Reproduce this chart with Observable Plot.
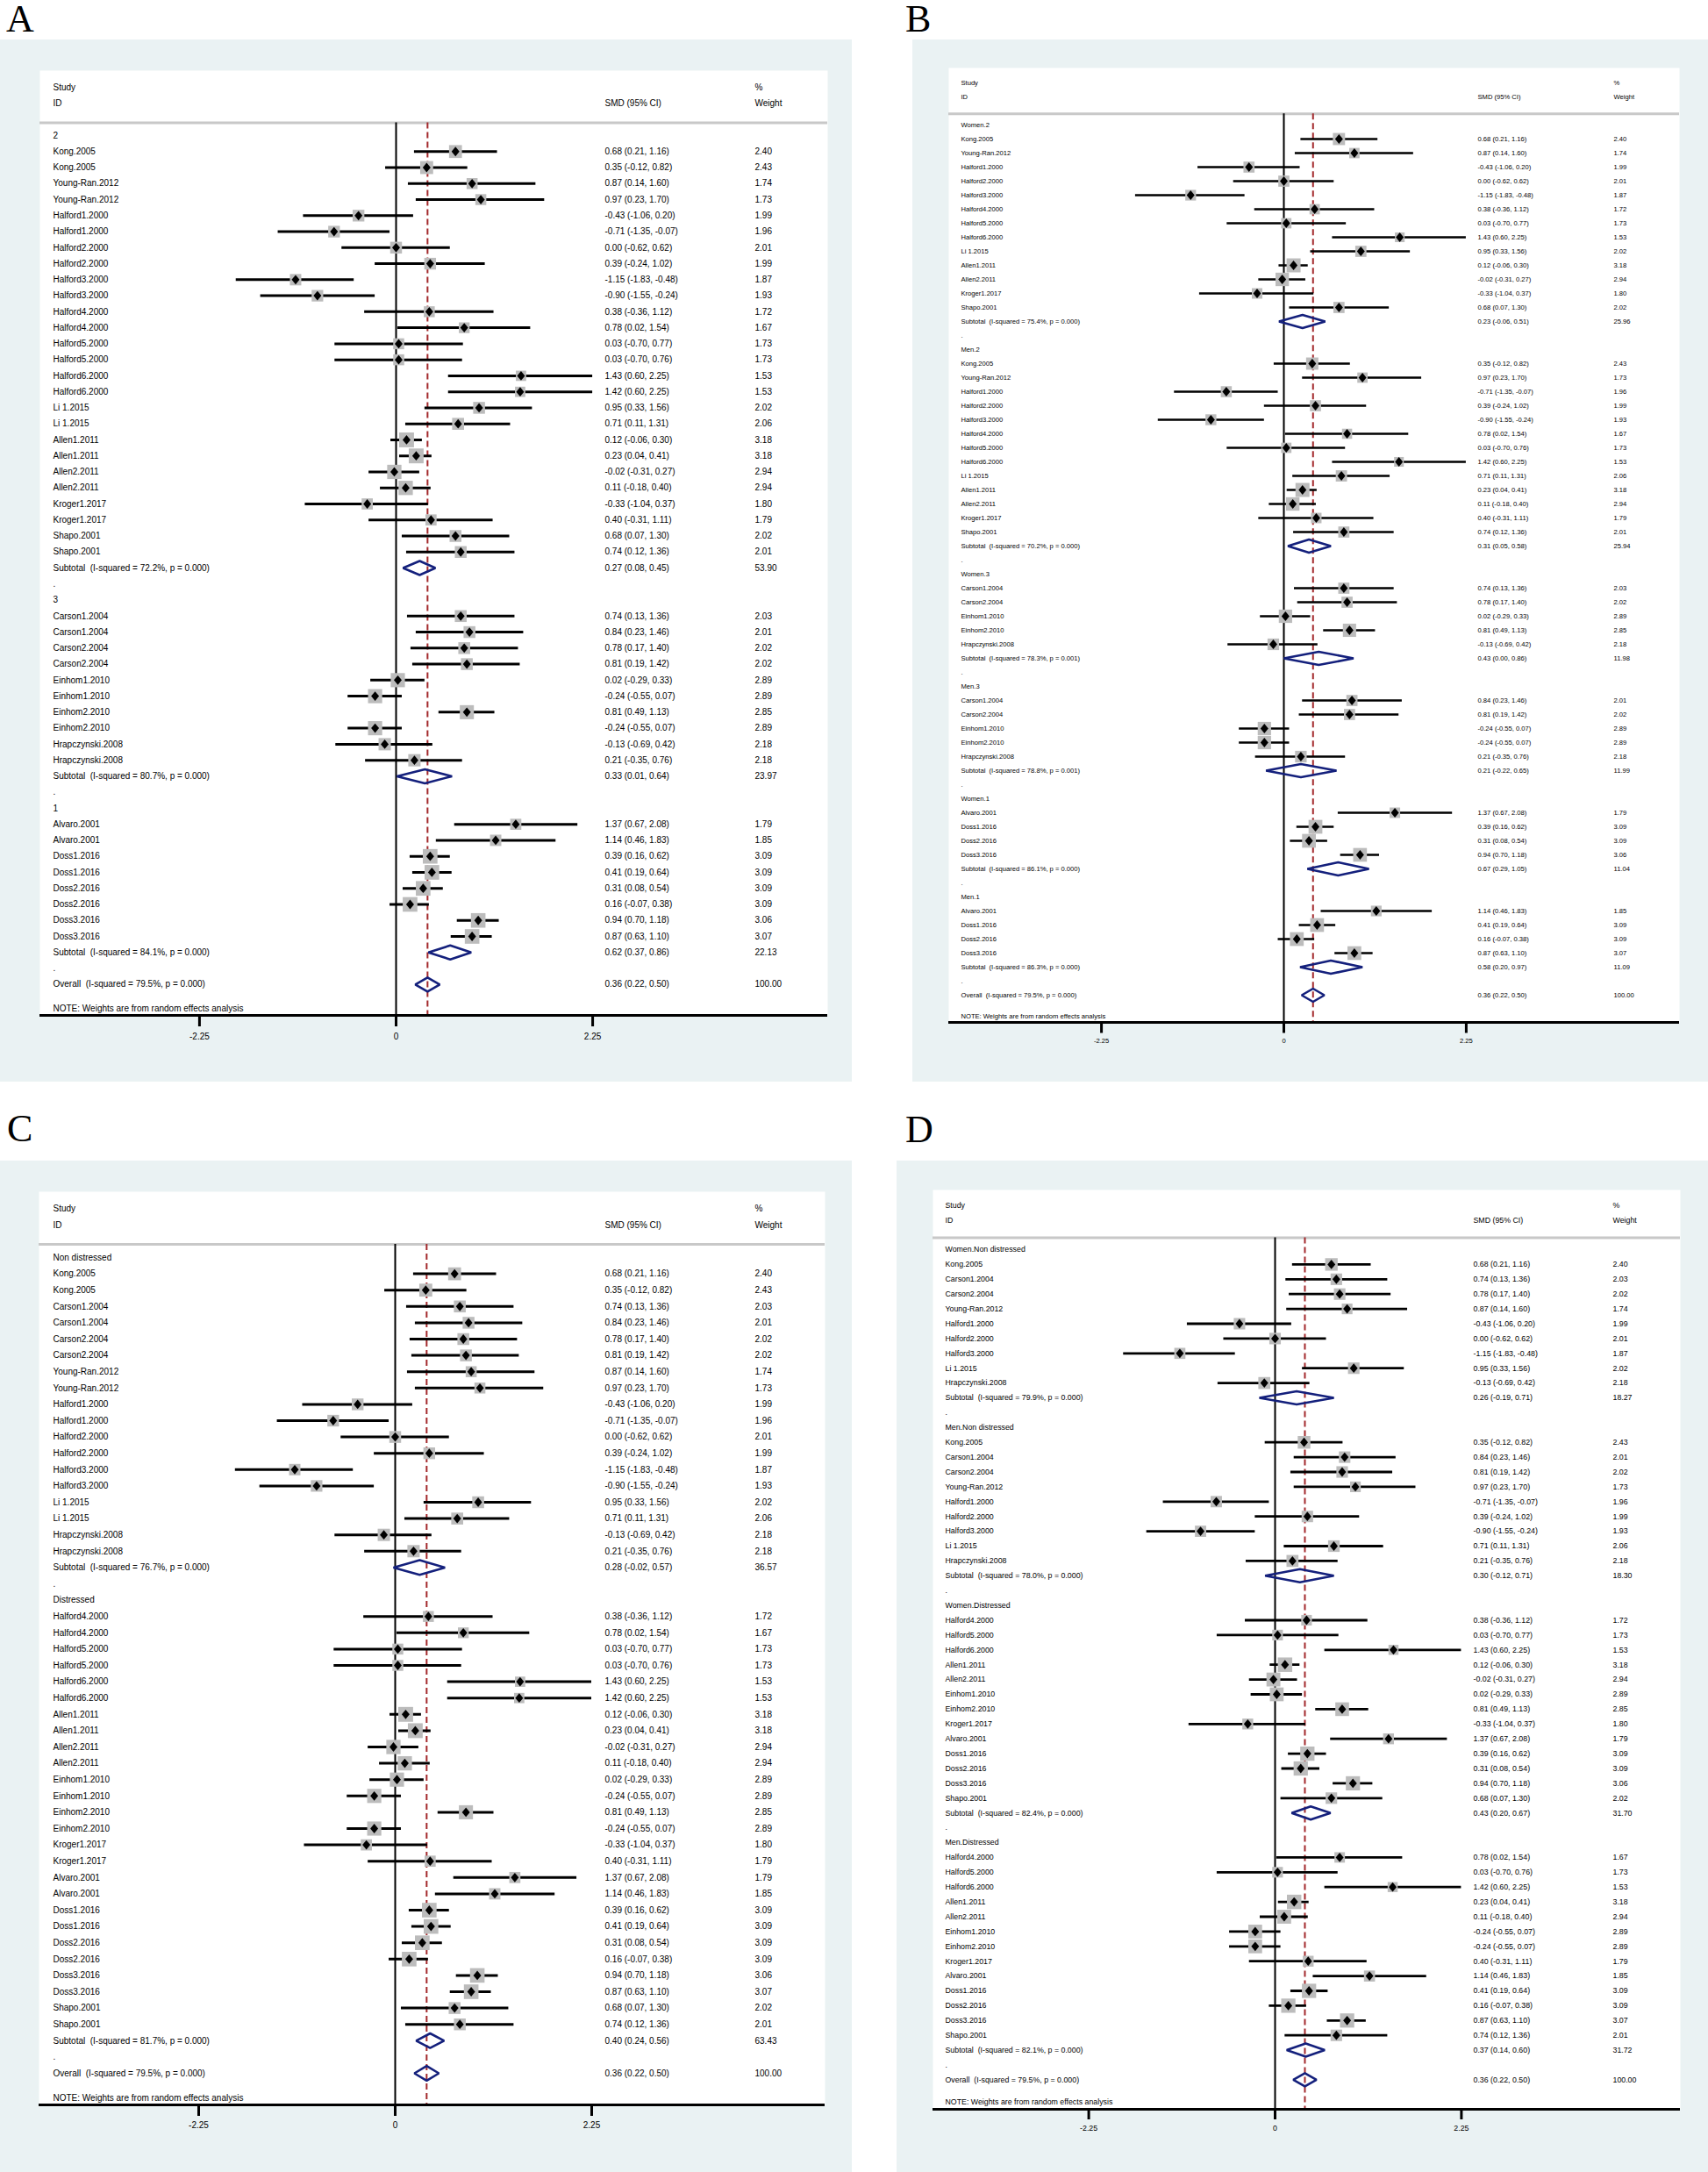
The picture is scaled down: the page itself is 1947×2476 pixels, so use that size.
<!DOCTYPE html>
<html><head><meta charset="utf-8">
<script src="https://cdn.jsdelivr.net/npm/d3@7"></script>
<script src="https://cdn.jsdelivr.net/npm/@observablehq/plot@0.6"></script>
<style>
html,body{margin:0;padding:0;background:#fff;}
body{width:1947px;height:2476px;position:relative;overflow:hidden;font-family:"Liberation Sans",Arial,sans-serif;}
.letter{position:absolute;font-family:"Liberation Serif","Times New Roman",serif;font-size:44px;line-height:44px;color:#000;}
.panel{position:absolute;}
.panel svg{display:block;}
</style></head><body>
<script>
// ---------------- shared values ----------------
const X_TICKS = [-2.25, 0, 2.25];
const HEAD_LEFT = ["Study", "ID"];
const HEAD_MID = ["", "SMD (95% CI)"];
const HEAD_RIGHT = ["%", "Weight"];
const NOTE_TEXT = "NOTE: Weights are from random effects analysis";
const OV_I2 = "79.5%", OV_P = "0.000", OV_SMD = 0.36, OV_LO = 0.22, OV_HI = 0.50, OV_WT = 100.00;

// ---------------- Panel A ----------------
const A_groups = ["2", "3", "1"];
const A_size = [26, 10, 8];
const A_study = ["Kong.2005","Kong.2005","Young-Ran.2012","Young-Ran.2012","Halford1.2000","Halford1.2000","Halford2.2000","Halford2.2000","Halford3.2000","Halford3.2000","Halford4.2000","Halford4.2000","Halford5.2000","Halford5.2000","Halford6.2000","Halford6.2000","Li 1.2015","Li 1.2015","Allen1.2011","Allen1.2011","Allen2.2011","Allen2.2011","Kroger1.2017","Kroger1.2017","Shapo.2001","Shapo.2001",
 "Carson1.2004","Carson1.2004","Carson2.2004","Carson2.2004","Einhom1.2010","Einhom1.2010","Einhom2.2010","Einhom2.2010","Hrapczynski.2008","Hrapczynski.2008",
 "Alvaro.2001","Alvaro.2001","Doss1.2016","Doss1.2016","Doss2.2016","Doss2.2016","Doss3.2016","Doss3.2016"];
const A_smd = [0.68,0.35,0.87,0.97,-0.43,-0.71,0.00,0.39,-1.15,-0.90,0.38,0.78,0.03,0.03,1.43,1.42,0.95,0.71,0.12,0.23,-0.02,0.11,-0.33,0.40,0.68,0.74,
 0.74,0.84,0.78,0.81,0.02,-0.24,0.81,-0.24,-0.13,0.21,
 1.37,1.14,0.39,0.41,0.31,0.16,0.94,0.87];
const A_lo = [0.21,-0.12,0.14,0.23,-1.06,-1.35,-0.62,-0.24,-1.83,-1.55,-0.36,0.02,-0.70,-0.70,0.60,0.60,0.33,0.11,-0.06,0.04,-0.31,-0.18,-1.04,-0.31,0.07,0.12,
 0.13,0.23,0.17,0.19,-0.29,-0.55,0.49,-0.55,-0.69,-0.35,
 0.67,0.46,0.16,0.19,0.08,-0.07,0.70,0.63];
const A_hi = [1.16,0.82,1.60,1.70,0.20,-0.07,0.62,1.02,-0.48,-0.24,1.12,1.54,0.77,0.76,2.25,2.25,1.56,1.31,0.30,0.41,0.27,0.40,0.37,1.11,1.30,1.36,
 1.36,1.46,1.40,1.42,0.33,0.07,1.13,0.07,0.42,0.76,
 2.08,1.83,0.62,0.64,0.54,0.38,1.18,1.10];
const A_wt = [2.40,2.43,1.74,1.73,1.99,1.96,2.01,1.99,1.87,1.93,1.72,1.67,1.73,1.73,1.53,1.53,2.02,2.06,3.18,3.18,2.94,2.94,1.80,1.79,2.02,2.01,
 2.03,2.01,2.02,2.02,2.89,2.89,2.85,2.89,2.18,2.18,
 1.79,1.85,3.09,3.09,3.09,3.09,3.06,3.07];
const A_subI2 = ["72.2%","80.7%","84.1%"];
const A_subP = ["0.000","0.000","0.000"];
const A_subSmd = [0.27,0.33,0.62];
const A_subLo = [0.08,0.01,0.37];
const A_subHi = [0.45,0.64,0.86];
const A_subWt = [53.90,23.97,22.13];

// ---------------- Panel B ----------------
const B_groups = ["Women.2","Men.2","Women.3","Men.3","Women.1","Men.1"];
const B_size = [13,13,5,5,4,4];
const B_study = ["Kong.2005","Young-Ran.2012","Halford1.2000","Halford2.2000","Halford3.2000","Halford4.2000","Halford5.2000","Halford6.2000","Li 1.2015","Allen1.2011","Allen2.2011","Kroger1.2017","Shapo.2001",
 "Kong.2005","Young-Ran.2012","Halford1.2000","Halford2.2000","Halford3.2000","Halford4.2000","Halford5.2000","Halford6.2000","Li 1.2015","Allen1.2011","Allen2.2011","Kroger1.2017","Shapo.2001",
 "Carson1.2004","Carson2.2004","Einhom1.2010","Einhom2.2010","Hrapczynski.2008",
 "Carson1.2004","Carson2.2004","Einhom1.2010","Einhom2.2010","Hrapczynski.2008",
 "Alvaro.2001","Doss1.2016","Doss2.2016","Doss3.2016",
 "Alvaro.2001","Doss1.2016","Doss2.2016","Doss3.2016"];
const B_smd = [0.68,0.87,-0.43,0.00,-1.15,0.38,0.03,1.43,0.95,0.12,-0.02,-0.33,0.68,
 0.35,0.97,-0.71,0.39,-0.90,0.78,0.03,1.42,0.71,0.23,0.11,0.40,0.74,
 0.74,0.78,0.02,0.81,-0.13,
 0.84,0.81,-0.24,-0.24,0.21,
 1.37,0.39,0.31,0.94,
 1.14,0.41,0.16,0.87];
const B_lo = [0.21,0.14,-1.06,-0.62,-1.83,-0.36,-0.70,0.60,0.33,-0.06,-0.31,-1.04,0.07,
 -0.12,0.23,-1.35,-0.24,-1.55,0.02,-0.70,0.60,0.11,0.04,-0.18,-0.31,0.12,
 0.13,0.17,-0.29,0.49,-0.69,
 0.23,0.19,-0.55,-0.55,-0.35,
 0.67,0.16,0.08,0.70,
 0.46,0.19,-0.07,0.63];
const B_hi = [1.16,1.60,0.20,0.62,-0.48,1.12,0.77,2.25,1.56,0.30,0.27,0.37,1.30,
 0.82,1.70,-0.07,1.02,-0.24,1.54,0.76,2.25,1.31,0.41,0.40,1.11,1.36,
 1.36,1.40,0.33,1.13,0.42,
 1.46,1.42,0.07,0.07,0.76,
 2.08,0.62,0.54,1.18,
 1.83,0.64,0.38,1.10];
const B_wt = [2.40,1.74,1.99,2.01,1.87,1.72,1.73,1.53,2.02,3.18,2.94,1.80,2.02,
 2.43,1.73,1.96,1.99,1.93,1.67,1.73,1.53,2.06,3.18,2.94,1.79,2.01,
 2.03,2.02,2.89,2.85,2.18,
 2.01,2.02,2.89,2.89,2.18,
 1.79,3.09,3.09,3.06,
 1.85,3.09,3.09,3.07];
const B_subI2 = ["75.4%","70.2%","78.3%","78.8%","86.1%","86.3%"];
const B_subP = ["0.000","0.000","0.001","0.001","0.000","0.000"];
const B_subSmd = [0.23,0.31,0.43,0.21,0.67,0.58];
const B_subLo = [-0.06,0.05,0.00,-0.22,0.29,0.20];
const B_subHi = [0.51,0.58,0.86,0.65,1.05,0.97];
const B_subWt = [25.96,25.94,11.98,11.99,11.04,11.09];

// ---------------- Panel C ----------------
const C_groups = ["Non distressed","Distressed"];
const C_size = [18,26];
const C_study = ["Kong.2005","Kong.2005","Carson1.2004","Carson1.2004","Carson2.2004","Carson2.2004","Young-Ran.2012","Young-Ran.2012","Halford1.2000","Halford1.2000","Halford2.2000","Halford2.2000","Halford3.2000","Halford3.2000","Li 1.2015","Li 1.2015","Hrapczynski.2008","Hrapczynski.2008",
 "Halford4.2000","Halford4.2000","Halford5.2000","Halford5.2000","Halford6.2000","Halford6.2000","Allen1.2011","Allen1.2011","Allen2.2011","Allen2.2011","Einhom1.2010","Einhom1.2010","Einhom2.2010","Einhom2.2010","Kroger1.2017","Kroger1.2017","Alvaro.2001","Alvaro.2001","Doss1.2016","Doss1.2016","Doss2.2016","Doss2.2016","Doss3.2016","Doss3.2016","Shapo.2001","Shapo.2001"];
const C_smd = [0.68,0.35,0.74,0.84,0.78,0.81,0.87,0.97,-0.43,-0.71,0.00,0.39,-1.15,-0.90,0.95,0.71,-0.13,0.21,
 0.38,0.78,0.03,0.03,1.43,1.42,0.12,0.23,-0.02,0.11,0.02,-0.24,0.81,-0.24,-0.33,0.40,1.37,1.14,0.39,0.41,0.31,0.16,0.94,0.87,0.68,0.74];
const C_lo = [0.21,-0.12,0.13,0.23,0.17,0.19,0.14,0.23,-1.06,-1.35,-0.62,-0.24,-1.83,-1.55,0.33,0.11,-0.69,-0.35,
 -0.36,0.02,-0.70,-0.70,0.60,0.60,-0.06,0.04,-0.31,-0.18,-0.29,-0.55,0.49,-0.55,-1.04,-0.31,0.67,0.46,0.16,0.19,0.08,-0.07,0.70,0.63,0.07,0.12];
const C_hi = [1.16,0.82,1.36,1.46,1.40,1.42,1.60,1.70,0.20,-0.07,0.62,1.02,-0.48,-0.24,1.56,1.31,0.42,0.76,
 1.12,1.54,0.77,0.76,2.25,2.25,0.30,0.41,0.27,0.40,0.33,0.07,1.13,0.07,0.37,1.11,2.08,1.83,0.62,0.64,0.54,0.38,1.18,1.10,1.30,1.36];
const C_wt = [2.40,2.43,2.03,2.01,2.02,2.02,1.74,1.73,1.99,1.96,2.01,1.99,1.87,1.93,2.02,2.06,2.18,2.18,
 1.72,1.67,1.73,1.73,1.53,1.53,3.18,3.18,2.94,2.94,2.89,2.89,2.85,2.89,1.80,1.79,1.79,1.85,3.09,3.09,3.09,3.09,3.06,3.07,2.02,2.01];
const C_subI2 = ["76.7%","81.7%"];
const C_subP = ["0.000","0.000"];
const C_subSmd = [0.28,0.40];
const C_subLo = [-0.02,0.24];
const C_subHi = [0.57,0.56];
const C_subWt = [36.57,63.43];

// ---------------- Panel D ----------------
const D_groups = ["Women.Non distressed","Men.Non distressed","Women.Distressed","Men.Distressed"];
const D_size = [9,9,13,13];
const D_study = ["Kong.2005","Carson1.2004","Carson2.2004","Young-Ran.2012","Halford1.2000","Halford2.2000","Halford3.2000","Li 1.2015","Hrapczynski.2008",
 "Kong.2005","Carson1.2004","Carson2.2004","Young-Ran.2012","Halford1.2000","Halford2.2000","Halford3.2000","Li 1.2015","Hrapczynski.2008",
 "Halford4.2000","Halford5.2000","Halford6.2000","Allen1.2011","Allen2.2011","Einhom1.2010","Einhom2.2010","Kroger1.2017","Alvaro.2001","Doss1.2016","Doss2.2016","Doss3.2016","Shapo.2001",
 "Halford4.2000","Halford5.2000","Halford6.2000","Allen1.2011","Allen2.2011","Einhom1.2010","Einhom2.2010","Kroger1.2017","Alvaro.2001","Doss1.2016","Doss2.2016","Doss3.2016","Shapo.2001"];
const D_smd = [0.68,0.74,0.78,0.87,-0.43,0.00,-1.15,0.95,-0.13,
 0.35,0.84,0.81,0.97,-0.71,0.39,-0.90,0.71,0.21,
 0.38,0.03,1.43,0.12,-0.02,0.02,0.81,-0.33,1.37,0.39,0.31,0.94,0.68,
 0.78,0.03,1.42,0.23,0.11,-0.24,-0.24,0.40,1.14,0.41,0.16,0.87,0.74];
const D_lo = [0.21,0.13,0.17,0.14,-1.06,-0.62,-1.83,0.33,-0.69,
 -0.12,0.23,0.19,0.23,-1.35,-0.24,-1.55,0.11,-0.35,
 -0.36,-0.70,0.60,-0.06,-0.31,-0.29,0.49,-1.04,0.67,0.16,0.08,0.70,0.07,
 0.02,-0.70,0.60,0.04,-0.18,-0.55,-0.55,-0.31,0.46,0.19,-0.07,0.63,0.12];
const D_hi = [1.16,1.36,1.40,1.60,0.20,0.62,-0.48,1.56,0.42,
 0.82,1.46,1.42,1.70,-0.07,1.02,-0.24,1.31,0.76,
 1.12,0.77,2.25,0.30,0.27,0.33,1.13,0.37,2.08,0.62,0.54,1.18,1.30,
 1.54,0.76,2.25,0.41,0.40,0.07,0.07,1.11,1.83,0.64,0.38,1.10,1.36];
const D_wt = [2.40,2.03,2.02,1.74,1.99,2.01,1.87,2.02,2.18,
 2.43,2.01,2.02,1.73,1.96,1.99,1.93,2.06,2.18,
 1.72,1.73,1.53,3.18,2.94,2.89,2.85,1.80,1.79,3.09,3.09,3.06,2.02,
 1.67,1.73,1.53,3.18,2.94,2.89,2.89,1.79,1.85,3.09,3.09,3.07,2.01];
const D_subI2 = ["79.9%","78.0%","82.4%","82.1%"];
const D_subP = ["0.000","0.000","0.000","0.000"];
const D_subSmd = [0.26,0.30,0.43,0.37];
const D_subLo = [-0.19,-0.12,0.20,0.14];
const D_subHi = [0.71,0.71,0.67,0.60];
const D_subWt = [18.27,18.30,31.70,31.72];

// ---------------- layout (page pixels) ----------------
const LAYOUT = {
  A: {letterX: 7, letterY: 0, left: 0, top: 45, w: 971, h: 1188, white: [45, 943, 80, 1157], zero: 451, ppu: 99.6, row0: 154, rowPx: 18.26, col: [60, 689, 860], font: 10, rMax: 9.55, ciW: 3, diaHalf: 8, tick: 13, pad: 7},
  B: {letterX: 1032, letterY: 0, left: 1040, top: 45, w: 907, h: 1188, white: [1081, 1914, 77, 1165], zero: 1463, ppu: 92.4, row0: 142, rowPx: 16, col: [1095, 1684, 1839], font: 7.6, rMax: 9.0, ciW: 2.7, diaHalf: 7.5, tick: 12.5, pad: 5.5},
  C: {letterX: 8, letterY: 1265, left: 0, top: 1323, w: 971, h: 1153, white: [44, 940, 1358, 2399], zero: 450, ppu: 99.56, row0: 1433, rowPx: 18.6, col: [60, 689, 860], font: 10, rMax: 9.55, ciW: 3, diaHalf: 8.3, tick: 13, pad: 6.5},
  D: {letterX: 1032, letterY: 1266, left: 1022, top: 1323, w: 925, h: 1153, white: [1063, 1915, 1356, 2404], zero: 1453, ppu: 94.4, row0: 1424, rowPx: 16.9, col: [1077, 1679, 1838], font: 8.8, rMax: 9.3, ciW: 2.8, diaHalf: 7.5, tick: 12, pad: 6}
};

const PANEL_DATA = {
  A: {groups: A_groups, size: A_size, study: A_study, smd: A_smd, lo: A_lo, hi: A_hi, wt: A_wt, subI2: A_subI2, subP: A_subP, subSmd: A_subSmd, subLo: A_subLo, subHi: A_subHi, subWt: A_subWt},
  B: {groups: B_groups, size: B_size, study: B_study, smd: B_smd, lo: B_lo, hi: B_hi, wt: B_wt, subI2: B_subI2, subP: B_subP, subSmd: B_subSmd, subLo: B_subLo, subHi: B_subHi, subWt: B_subWt},
  C: {groups: C_groups, size: C_size, study: C_study, smd: C_smd, lo: C_lo, hi: C_hi, wt: C_wt, subI2: C_subI2, subP: C_subP, subSmd: C_subSmd, subLo: C_subLo, subHi: C_subHi, subWt: C_subWt},
  D: {groups: D_groups, size: D_size, study: D_study, smd: D_smd, lo: D_lo, hi: D_hi, wt: D_wt, subI2: D_subI2, subP: D_subP, subSmd: D_subSmd, subLo: D_subLo, subHi: D_subHi, subWt: D_subWt}
};

const BG = "#eaf2f3", SQ = "#bcbcbc", NAVY = "#14207c", RED = "#a3292c", GREYLINE = "#c8c8c8";
const f2 = v => v.toFixed(2);

const SMALL_DIAMOND = {
  draw(ctx, size) {
    const r = Math.sqrt(size / Math.PI);
    const a = r, b = r * 1.2;
    ctx.moveTo(0, -b); ctx.lineTo(a, 0); ctx.lineTo(0, b); ctx.lineTo(-a, 0); ctx.closePath();
  }
};

function buildPanel(key) {
  const D = PANEL_DATA[key], L = LAYOUT[key];
  const rows = [];
  let r = 0, k = 0;
  D.groups.forEach((g, gi) => {
    rows.push({kind: "label", row: r++, label: g});
    for (let j = 0; j < D.size[gi]; j++, k++) {
      rows.push({kind: "study", row: r++, label: D.study[k], smd: D.smd[k], lo: D.lo[k], hi: D.hi[k], w: D.wt[k]});
    }
    rows.push({kind: "sub", row: r++, label: "Subtotal\u00a0\u00a0(I-squared = " + D.subI2[gi] + ", p = " + D.subP[gi] + ")",
      smd: D.subSmd[gi], lo: D.subLo[gi], hi: D.subHi[gi], w: D.subWt[gi]});
    rows.push({kind: "label", row: r++, label: "."});
  });
  rows.push({kind: "sub", row: r, label: "Overall\u00a0\u00a0(I-squared = " + OV_I2 + ", p = " + OV_P + ")",
    smd: OV_SMD, lo: OV_LO, hi: OV_HI, w: OV_WT});
  const last = r;

  const studies = rows.filter(d => d.kind === "study");
  const stats = rows.filter(d => d.w !== undefined);
  const subs = rows.filter(d => d.kind === "sub");
  const hh = L.diaHalf / L.rowPx;
  const dia = [];
  subs.forEach((s, i) => {
    dia.push({id: i, x: s.lo, y: s.row}, {id: i, x: s.smd, y: s.row - hh}, {id: i, x: s.hi, y: s.row}, {id: i, x: s.smd, y: s.row + hh});
  });
  const head = HEAD_LEFT.map((t, i) => ({row: -3 + i, left: t, mid: HEAD_MID[i], right: HEAD_RIGHT[i]}));
  const note = [{row: last + 1.5, text: NOTE_TEXT}];

  const yTop = (L.white[2] - L.row0) / L.rowPx;
  const yBot = (L.white[3] - L.row0) / L.rowPx;
  const greyRow = -0.8;
  const mT = L.white[2] - L.top, mB = L.top + L.h - L.white[3];
  const dx0 = L.col[0] - L.white[0], dx1 = L.col[1] - L.white[0], dx2 = L.col[2] - L.white[0];
  const txt = {frameAnchor: "left", textAnchor: "start", fontSize: L.font, fill: "#000"};

  const plot = Plot.plot({
    width: L.w, height: L.h,
    marginLeft: L.white[0] - L.left, marginRight: L.left + L.w - L.white[1],
    marginTop: mT, marginBottom: mB,
    x: {domain: [(L.white[0] - L.zero) / L.ppu, (L.white[1] - L.zero) / L.ppu], label: null},
    y: {domain: [yTop, yBot], range: [mT, L.h - mB], axis: null, label: null},
    r: {type: "sqrt", domain: [0, 3.18], range: [0, L.rMax]},
    style: {background: BG, fontFamily: "Liberation Sans, Arial, sans-serif", fontSize: L.font + "px", color: "#000", overflow: "visible"},
    marks: [
      Plot.frame({fill: "white", stroke: "none"}),
      Plot.ruleY([greyRow], {stroke: GREYLINE, strokeWidth: 3}),
      Plot.ruleX([0], {y1: greyRow, y2: yBot, stroke: "#000", strokeWidth: 2}),
      Plot.ruleX([OV_SMD], {y1: greyRow, y2: yBot, stroke: RED, strokeWidth: 2, strokeDasharray: "7,4"}),
      Plot.ruleY(studies, {y: "row", x1: "lo", x2: "hi", stroke: "#000", strokeWidth: L.ciW}),
      Plot.dot(studies, {x: "smd", y: "row", r: "w", symbol: "square", fill: SQ}),
      Plot.dot(studies, {x: "smd", y: "row", r: 4.5, symbol: SMALL_DIAMOND, fill: "#000"}),
      Plot.line(dia, {x: "x", y: "y", z: "id", curve: "linear-closed", stroke: NAVY, strokeWidth: 2.6, strokeLinejoin: "miter", fill: "none"}),
      Plot.text(head, {...txt, y: "row", text: "left", dx: dx0}),
      Plot.text(head, {...txt, y: "row", text: "mid", dx: dx1}),
      Plot.text(head, {...txt, y: "row", text: "right", dx: dx2}),
      Plot.text(rows, {...txt, y: "row", text: "label", dx: dx0}),
      Plot.text(stats, {...txt, y: "row", text: d => f2(d.smd) + " (" + f2(d.lo) + ", " + f2(d.hi) + ")", dx: dx1}),
      Plot.text(stats, {...txt, y: "row", text: d => f2(d.w), dx: dx2}),
      Plot.text(note, {...txt, y: "row", text: "text", dx: dx0}),
      Plot.ruleY([yBot], {stroke: "#000", strokeWidth: 3}),
      Plot.axisX({ticks: X_TICKS, tickFormat: d => d === 0 ? "0" : d.toFixed(2), tickSize: L.tick, tickPadding: L.pad, strokeWidth: 3, fontSize: L.font, label: null, fill: "#000"})
    ]
  });

  const div = document.createElement("div");
  div.className = "panel";
  div.style.left = L.left + "px";
  div.style.top = L.top + "px";
  div.appendChild(plot);
  document.body.appendChild(div);

  const letter = document.createElement("div");
  letter.className = "letter";
  letter.textContent = key;
  letter.style.left = L.letterX + "px";
  letter.style.top = L.letterY + "px";
  document.body.appendChild(letter);
}

["A", "B", "C", "D"].forEach(buildPanel);
</script>
</body></html>
